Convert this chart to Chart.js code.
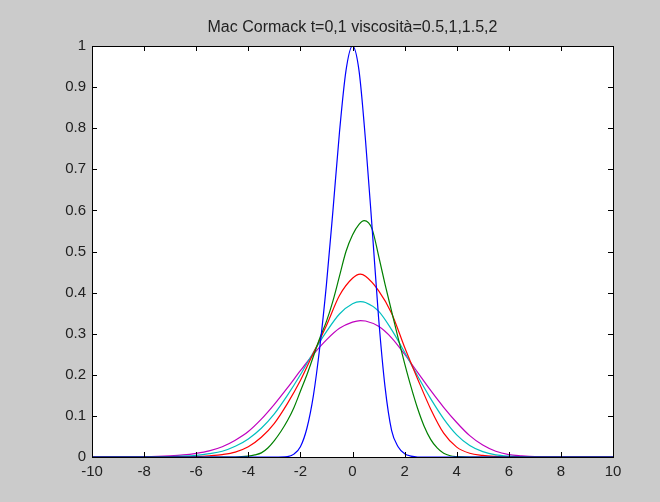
<!DOCTYPE html>
<html>
<head>
<meta charset="utf-8">
<script src="https://cdn.jsdelivr.net/npm/chart.js@4.4.1/dist/chart.umd.min.js"></script>
<style>
  html, body { margin: 0; padding: 0; background: #cbcbcb; }
  #wrap { width: 660px; height: 502px; }
</style>
</head>
<body>
<div id="wrap"><canvas id="mac"></canvas></div>
<script>
const titleText = 'Mac Cormack t=0,1 viscosità=0.5,1,1.5,2';

const xTicks = [-10, -8, -6, -4, -2, 0, 2, 4, 6, 8, 10];
const yTicks = [0, 0.1, 0.2, 0.3, 0.4, 0.5, 0.6, 0.7, 0.8, 0.9, 1];

// condizione iniziale (blu)
const blueX = [-10, -3, -2.5, -2.25, -2, -1.75, -1.5, -1.25, -1, -0.75, -0.5, -0.25, 0, 0.25, 0.5, 0.75, 1, 1.25, 1.5, 1.75, 2, 2.25, 2.5, 10];
const blueY = [0, 0, 0.001, 0.007, 0.025, 0.07, 0.15, 0.27, 0.42, 0.6, 0.79, 0.94, 1, 0.94, 0.77, 0.56, 0.34, 0.17, 0.065, 0.025, 0.008, 0.002, 0, 0];

// viscosita 0.5 (verde)
const greenX = [-10, -4.5, -4, -3.75, -3.5, -3.25, -3, -2.75, -2.5, -2.25, -2, -1.75, -1.5, -1.25, -1, -0.75, -0.5, -0.25, 0, 0.25, 0.45, 0.75, 1, 1.25, 1.5, 1.75, 2, 2.25, 2.5, 2.75, 3, 3.25, 3.5, 3.75, 4, 4.5, 10];
const greenY = [0, 0, 0.002, 0.005, 0.01, 0.022, 0.04, 0.062, 0.088, 0.12, 0.16, 0.2, 0.245, 0.29, 0.33, 0.38, 0.44, 0.5, 0.54, 0.566, 0.575, 0.555, 0.49, 0.42, 0.355, 0.29, 0.228, 0.17, 0.118, 0.075, 0.043, 0.022, 0.009, 0.003, 0.001, 0, 0];

// viscosita 1 (rosso)
const redX = [-10, -6.5, -6, -5.5, -5, -4.5, -4, -3.5, -3, -2.5, -2, -1.5, -1, -0.5, 0, 0.3, 0.5, 1, 1.5, 2, 2.5, 3, 3.5, 4, 4.5, 5, 5.5, 6, 10];
const redY = [0, 0, 0.001, 0.003, 0.006, 0.012, 0.025, 0.048, 0.082, 0.13, 0.186, 0.253, 0.32, 0.393, 0.435, 0.445, 0.44, 0.405, 0.35, 0.267, 0.19, 0.117, 0.058, 0.024, 0.009, 0.004, 0.0015, 0, 0];

// viscosita 1.5 (ciano)
const cyanX = [-10, -7, -6.5, -6, -5.5, -5, -4.5, -4, -3.5, -3, -2.5, -2, -1.5, -1, -0.5, 0, 0.3, 0.5, 1, 1.5, 2, 2.5, 3, 3.5, 4, 4.5, 5, 5.5, 6, 6.5, 7, 10];
const cyanY = [0, 0.001, 0.002, 0.004, 0.008, 0.014, 0.026, 0.044, 0.07, 0.105, 0.15, 0.2, 0.255, 0.305, 0.348, 0.373, 0.378, 0.376, 0.355, 0.31, 0.255, 0.197, 0.142, 0.093, 0.054, 0.028, 0.013, 0.005, 0.002, 0.001, 0, 0];

// viscosita 2 (magenta)
const magentaX = [-10, -8, -7, -6.5, -6, -5.5, -5, -4.5, -4, -3.5, -3, -2.5, -2, -1.5, -1, -0.5, 0, 0.3, 0.5, 1, 1.5, 2, 2.5, 3, 3.5, 4, 4.5, 5, 5.5, 6, 6.5, 7, 8, 10];
const magentaY = [0, 0.001, 0.003, 0.005, 0.009, 0.015, 0.025, 0.041, 0.062, 0.092, 0.128, 0.168, 0.21, 0.25, 0.285, 0.313, 0.328, 0.332, 0.331, 0.318, 0.29, 0.25, 0.206, 0.162, 0.121, 0.084, 0.052, 0.029, 0.014, 0.006, 0.003, 0.001, 0, 0];

function pts(xs, ys) {
  return xs.map((x, i) => ({ x: x, y: ys[i] }));
}

function serie(label, xs, ys, color) {
  return {
    label: label,
    data: pts(xs, ys),
    borderColor: color,
    backgroundColor: color,
    borderWidth: 1.2,
    pointRadius: 0,
    fill: false,
    cubicInterpolationMode: 'monotone'
  };
}

const fontFam = '"Liberation Sans", Arial, sans-serif';

// sfondo grigio, riquadro bianco, titolo e tacche interne stile MATLAB
const matlabLook = {
  id: 'matlabLook',
  beforeDraw(chart) {
    const c = chart.ctx, a = chart.chartArea;
    c.save();
    c.fillStyle = '#cbcbcb';
    c.fillRect(0, 0, chart.width, chart.height);
    c.fillStyle = '#ffffff';
    c.fillRect(a.left, a.top, a.right - a.left, a.bottom - a.top);
    c.restore();
  },
  afterDatasetsDraw(chart) {
    const c = chart.ctx, a = chart.chartArea;
    const sx = chart.scales.x, sy = chart.scales.y;
    c.save();
    c.strokeStyle = '#000000';
    c.lineWidth = 1;
    c.beginPath();
    xTicks.forEach(v => {
      const px = Math.round(sx.getPixelForValue(v)) + 0.5;
      c.moveTo(px, a.bottom); c.lineTo(px, a.bottom - 5);
      c.moveTo(px, a.top); c.lineTo(px, a.top + 5);
    });
    yTicks.forEach(v => {
      const py = Math.round(sy.getPixelForValue(v)) + 0.5;
      c.moveTo(a.left, py); c.lineTo(a.left + 5, py);
      c.moveTo(a.right, py); c.lineTo(a.right - 5, py);
    });
    c.stroke();
    c.strokeRect(Math.round(a.left) + 0.5, Math.round(a.top) + 0.5,
      Math.round(a.right - a.left), Math.round(a.bottom - a.top));
    c.fillStyle = '#222222';
    c.font = '16px ' + fontFam;
    c.textAlign = 'center';
    c.textBaseline = 'middle';
    c.fillText(titleText, (a.left + a.right) / 2, 28);
    c.restore();
  }
};

new Chart(document.getElementById('mac'), {
  type: 'line',
  data: {
    datasets: [
      serie('t=0', blueX, blueY, '#0000ff'),
      serie('0.5', greenX, greenY, '#008000'),
      serie('1', redX, redY, '#ff0000'),
      serie('1.5', cyanX, cyanY, '#00bfbf'),
      serie('2', magentaX, magentaY, '#bf00bf')
    ]
  },
  plugins: [matlabLook],
  options: {
    responsive: true,
    maintainAspectRatio: false,
    animation: false,
    layout: { padding: { left: 0, right: 47, top: 46, bottom: 0 } },
    plugins: {
      legend: { display: false },
      title: { display: false },
      tooltip: { enabled: false }
    },
    scales: {
      x: {
        type: 'linear',
        min: -10,
        max: 10,
        afterFit: s => { s.height = 45; },
        afterBuildTicks: s => { s.ticks = xTicks.map(v => ({ value: v })); },
        grid: { display: false, drawTicks: false },
        border: { display: false },
        ticks: {
          color: '#222222',
          padding: 6,
          maxRotation: 0,
          font: { family: fontFam, size: 15 }
        }
      },
      y: {
        min: 0,
        max: 1,
        afterFit: s => { s.width = 92; },
        afterBuildTicks: s => { s.ticks = yTicks.map(v => ({ value: v })); },
        grid: { display: false, drawTicks: false },
        border: { display: false },
        ticks: {
          color: '#222222',
          padding: 6,
          font: { family: fontFam, size: 15 },
          callback: v => String(Math.round(v * 10) / 10)
        }
      }
    }
  }
});
</script>
</body>
</html>
